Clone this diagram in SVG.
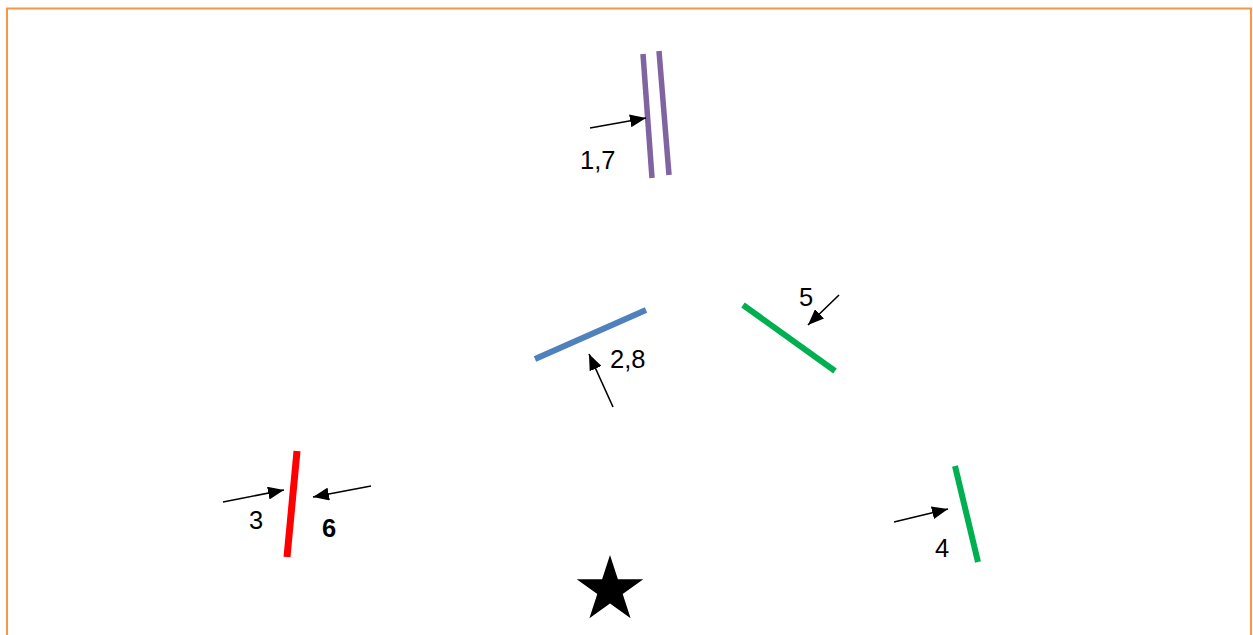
<svg xmlns="http://www.w3.org/2000/svg" width="1253" height="635" viewBox="0 0 1253 635">
  <style>
    .lbl { font-family: "Liberation Sans", Arial, sans-serif; font-size: 25.5px; fill: #000; }
    .bold { font-weight: bold; }
    .arr { stroke: #000; stroke-width: 1.6; fill: none; marker-end: url(#ah); }
    .bar { fill: none; stroke-linecap: butt; }
  </style>
  <defs>
    <marker id="ah" markerUnits="userSpaceOnUse" markerWidth="17" markerHeight="13" refX="16" refY="6.5" orient="auto">
      <path d="M0,0 L16,6.5 L0,13 Z" fill="#000"/>
    </marker>
  </defs>
  <rect x="7" y="8.5" width="1244" height="640" fill="#fff" stroke="#F79646" stroke-width="2"/>

  <g id="node-purple">
    <line class="bar" x1="643" y1="54" x2="652" y2="178" stroke="#8064A2" stroke-width="5.5"/>
    <line class="bar" x1="659" y1="51" x2="669" y2="175" stroke="#8064A2" stroke-width="5.5"/>
    <text class="lbl" x="580" y="169">1,7</text>
  </g>
  <g id="node-blue">
    <line class="bar" x1="535" y1="359" x2="646" y2="310" stroke="#4F81BD" stroke-width="6"/>
    <text class="lbl" x="610" y="368">2,8</text>
  </g>
  <g id="node-green5">
    <line class="bar" x1="743" y1="305" x2="835" y2="371" stroke="#00B050" stroke-width="6"/>
    <text class="lbl" x="799" y="306">5</text>
  </g>
  <g id="node-red">
    <line class="bar" x1="297" y1="451" x2="287" y2="557" stroke="#FF0000" stroke-width="7"/>
    <text class="lbl" x="249" y="529">3</text>
    <text class="lbl bold" x="322" y="537">6</text>
  </g>
  <g id="node-green4">
    <line class="bar" x1="955" y1="466" x2="978" y2="562" stroke="#00B050" stroke-width="6"/>
    <text class="lbl" x="935" y="557">4</text>
  </g>
  <g id="node-star">
    <polygon points="610,555 617.9,579.2 643.3,579.2 622.7,594.1 630.6,618.3 610,603.4 589.4,618.3 597.3,594.1 576.7,579.2 602.1,579.2" fill="#000"/>
  </g>

  <g id="connectors">
    <line class="arr" x1="590" y1="128" x2="646" y2="118"/>
    <line class="arr" x1="613" y1="407" x2="589" y2="354"/>
    <line class="arr" x1="839" y1="295" x2="808" y2="325"/>
    <line class="arr" x1="223" y1="502" x2="284" y2="490"/>
    <line class="arr" x1="371" y1="486" x2="313" y2="497"/>
    <line class="arr" x1="894" y1="522" x2="948" y2="509"/>
  </g>
</svg>
